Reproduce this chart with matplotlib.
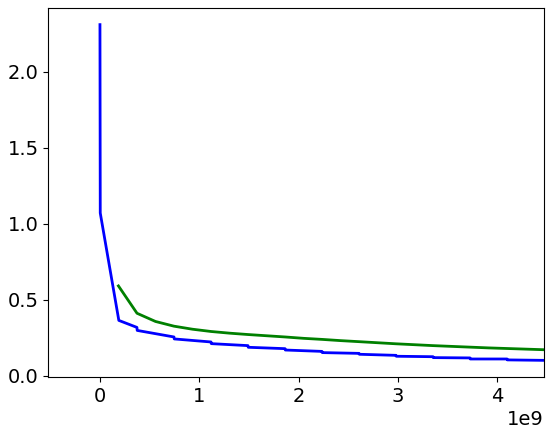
import numpy as np
import matplotlib
matplotlib.use("Agg")
import matplotlib.pyplot as plt

# blue curve: sharp initial drop, then small steps every ~0.37e9
blue_x = [0.0, 0.003, 0.19, 0.372, 0.375, 0.745, 0.748, 1.118, 1.121,
          1.490, 1.493, 1.863, 1.866, 2.235, 2.238, 2.608, 2.611,
          2.980, 2.983, 3.353, 3.356, 3.725, 3.728, 4.098, 4.101, 4.47]
blue_y = [2.31, 1.07, 0.363, 0.317, 0.297, 0.254, 0.241, 0.221, 0.210,
          0.197, 0.186, 0.177, 0.168, 0.159, 0.151, 0.146, 0.140,
          0.133, 0.127, 0.124, 0.118, 0.116, 0.109, 0.109, 0.103, 0.100]

# green curve: smooth, sampled every ~0.186e9
green_x = [0.186, 0.373, 0.559, 0.745, 0.931, 1.118, 1.304, 1.490,
           1.676, 1.863, 2.049, 2.235, 2.420, 2.608, 2.794, 2.980,
           3.167, 3.353, 3.539, 3.725, 3.912, 4.098, 4.284, 4.470]
green_y = [0.590, 0.410, 0.356, 0.325, 0.305, 0.290, 0.279, 0.270,
           0.262, 0.254, 0.245, 0.238, 0.230, 0.223, 0.216, 0.209,
           0.203, 0.197, 0.192, 0.187, 0.182, 0.178, 0.174, 0.170]

bx = np.array(blue_x) * 1e9
gx = np.array(green_x) * 1e9

fig = plt.figure(figsize=(5.52, 4.36), dpi=100)
ax = fig.add_axes([0.0875, 0.135, 0.898, 0.847])
ax.plot(bx, blue_y, color='blue', linewidth=2)
ax.plot(gx, green_y, color='green', linewidth=2)
ax.set_xlim(-0.52e9, bx[-1])
ax.tick_params(labelsize=14)
ax.xaxis.get_offset_text().set_fontsize(14)

fig.savefig('out.png', dpi=100)
